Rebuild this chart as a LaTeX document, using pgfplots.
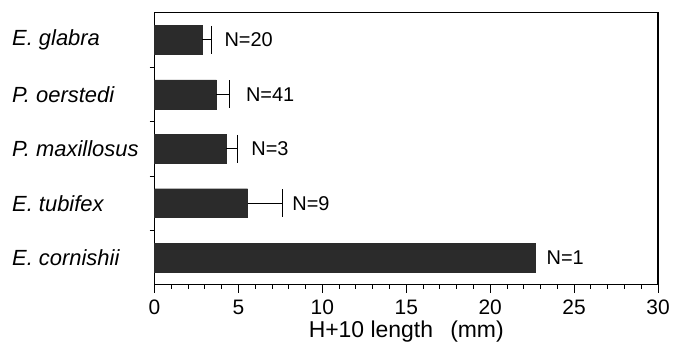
\documentclass[border=0pt]{standalone}
\usepackage{fontspec}
\setmainfont{Liberation Sans}
\usepackage{pgfplots}
\pgfplotsset{compat=1.18}
\begin{document}
\begin{tikzpicture}
\begin{axis}[
  name=ax,
  scale only axis,
  width=505pt, height=273pt,
  xmin=0, xmax=30, ymin=0.5, ymax=5.5,
  xbar, bar width=29pt, bar shift=0pt,
  axis line style={line width=1.1pt},
  tick style={line width=0.9pt, black},
  tick align=outside,
  xtick={0,5,...,30},
  minor x tick num=4,
  major tick length=8pt,
  minor tick length=4pt,
  xtick pos=bottom,
  ytick pos=left,
  ytick=\empty,
  extra y ticks={1.5,2.5,3.5,4.5},
  extra y tick labels={},
  extra y tick style={major tick length=5pt},
  xticklabel style={font=\fontsize{21}{24}\selectfont, yshift=-4pt},
  /pgf/number format/assume math mode=true,
  xlabel={H+10 length\hspace{0.75em}(mm)},
  xlabel style={font=\fontsize{23}{26}\selectfont, yshift=1pt},
  clip=false,
]
\addplot[fill=black!83, draw=black!83,
  error bars/.cd, x dir=plus, x explicit,
  error bar style={line width=1.1pt, black},
  error mark options={rotate=90, mark size=14pt, line width=1.1pt}]
  coordinates {
    (5.55,2) +- (2.07,0)
    (4.28,3) +- (0.69,0)
    (3.68,4) +- (0.78,0)
    (2.85,5) +- (0.57,0)
  };
\addplot[fill=black!83, draw=black!83] coordinates {(22.67,1)};
\begin{scope}[every node/.style={anchor=west, inner sep=0pt, font=\fontsize{20}{22}\selectfont}]
\node at (axis cs:4.16,5) {N=20};
\node at (axis cs:5.44,4) {N=41};
\node at (axis cs:5.76,3) {N=3};
\node at (axis cs:8.20,2) {N=9};
\node at (axis cs:23.35,1) {N=1};
\end{scope}
\begin{scope}[every node/.style={anchor=west, inner sep=0pt, xshift=-143pt, font=\fontsize{22}{24}\selectfont\itshape}]
\node at (axis cs:0,5) {E. glabra};
\node at (axis cs:0,4) {P. oerstedi};
\node at (axis cs:0,3) {P. maxillosus};
\node at (axis cs:0,2) {E. tubifex};
\node at (axis cs:0,1) {E. cornishii};
\end{scope}
\end{axis}
\path[use as bounding box] ([xshift=-155pt, yshift=-69.3pt]ax.south west) rectangle ([xshift=13pt, yshift=12.7pt]ax.north east);
\end{tikzpicture}
\end{document}
